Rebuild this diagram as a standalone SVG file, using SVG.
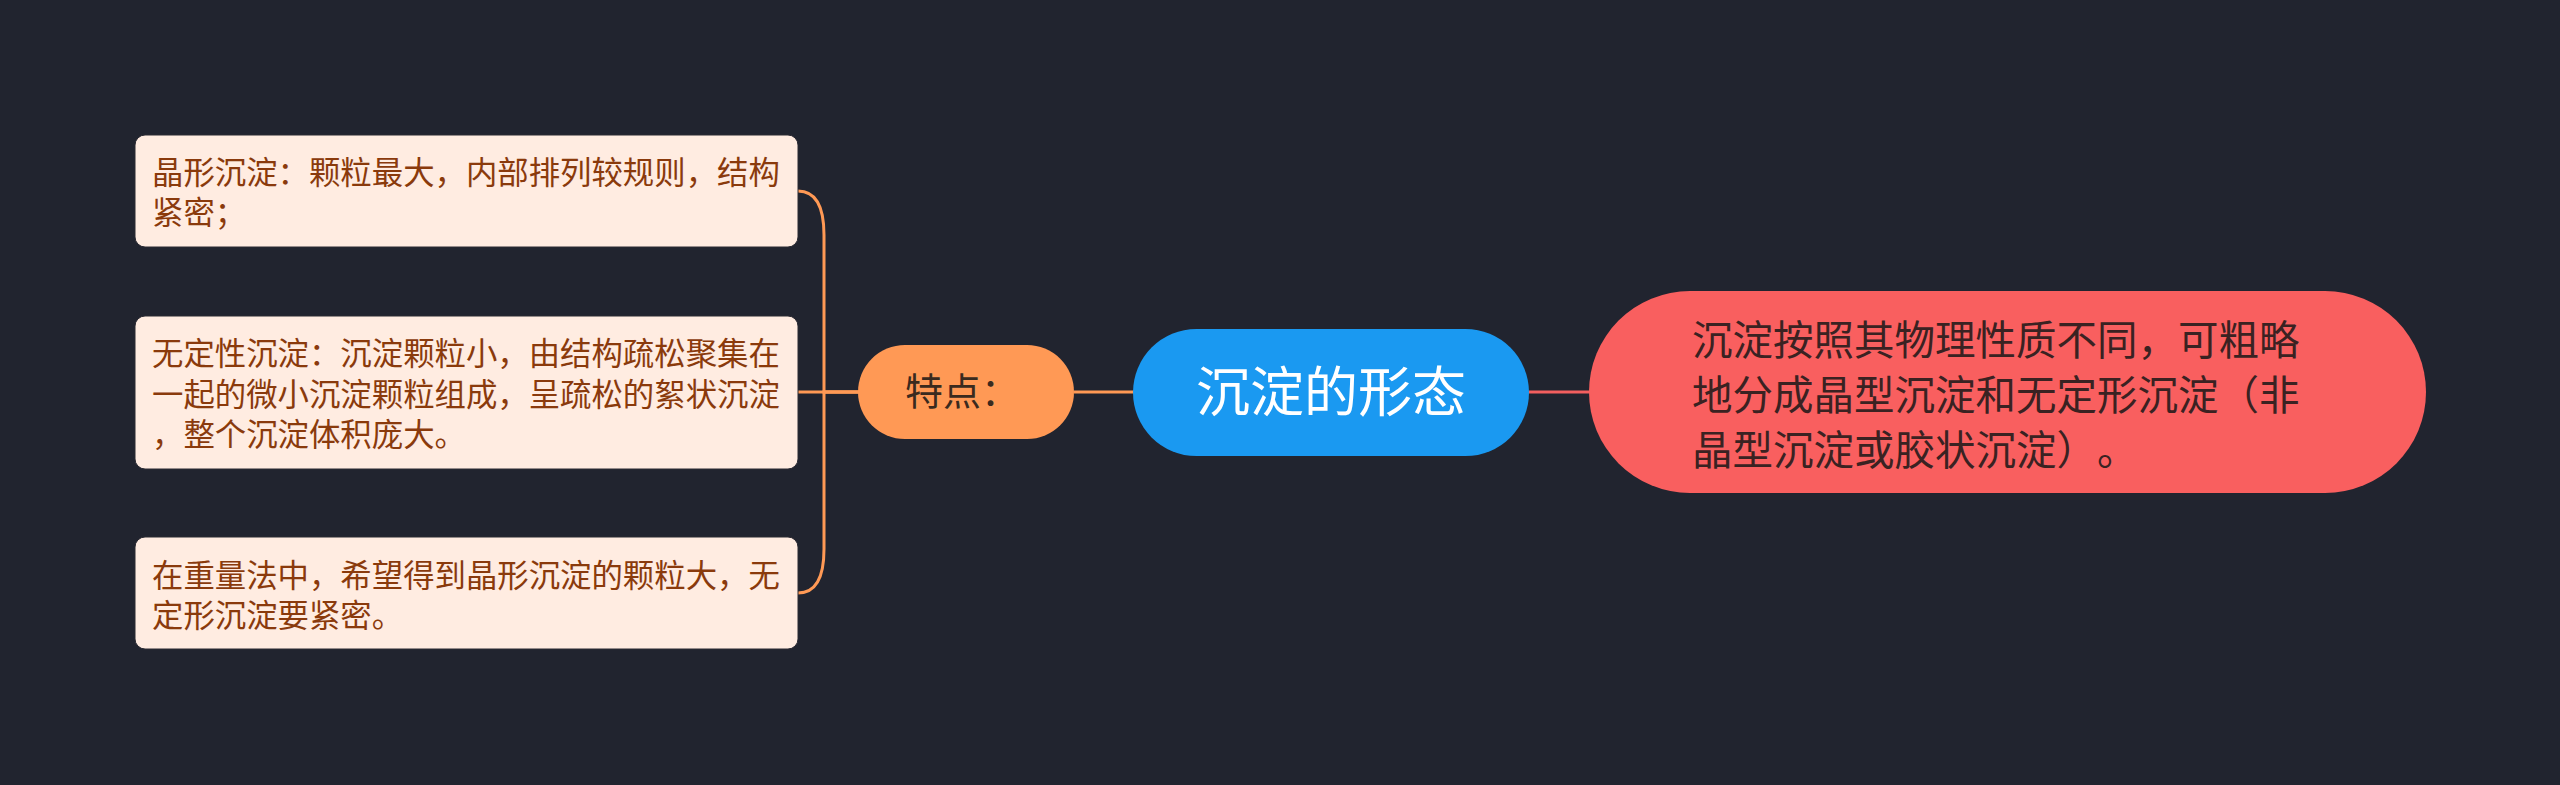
<svg xmlns="http://www.w3.org/2000/svg" width="2560" height="785" viewBox="0 0 2560 785">
<style>
text{text-spacing-trim:space-all}
.bg{fill:#21242F}
.leaf rect{fill:#FFECE1;stroke:#2a2a33;stroke-width:1}
.leaf text{font-family:"Noto Sans CJK SC","Noto Sans",sans-serif;font-size:31.4px;fill:#8A3A0C}
.conn{fill:none;stroke-width:3}
.orange{stroke:#FF9955}
.red{stroke:#F35F5F}
</style>
<rect class="bg" x="0" y="0" width="2560" height="785"/>
<g id="connectors">
<path class="conn orange" d="M859 392 H824 V235 C824 205 815 191 798 191"/>
<path class="conn orange" d="M859 392 H798"/>
<path class="conn orange" d="M859 392 H824 V549 C824 579 815 593 798 593"/>
<path class="conn orange" d="M1074 392 H1134"/>
<path class="conn red" d="M1529 392 H1590"/>
</g>
<g id="leaf1" class="leaf">
<rect x="135" y="135" width="663" height="112" rx="10"/>
<text x="152" y="184">晶形沉淀：颗粒最大，内部排列较规则，结构</text>
<text x="152" y="224">紧密；</text>
</g>
<g id="leaf2" class="leaf">
<rect x="135" y="316" width="663" height="153" rx="10"/>
<text x="152" y="365">无定性沉淀：沉淀颗粒小，由结构疏松聚集在</text>
<text x="152" y="405.5">一起的微小沉淀颗粒组成，呈疏松的絮状沉淀</text>
<text x="152" y="446">，整个沉淀体积庞大。</text>
</g>
<g id="leaf3" class="leaf">
<rect x="135" y="537" width="663" height="112" rx="10"/>
<text x="152" y="587">在重量法中，希望得到晶形沉淀的颗粒大，无</text>
<text x="152" y="627">定形沉淀要紧密。</text>
</g>
<g id="tedian">
<rect x="858" y="345" width="216" height="94" rx="47" fill="#FF9955"/>
<text x="905" y="405" font-family="Noto Sans CJK SC,sans-serif" font-size="38" fill="#3A2A1E">特点：</text>
</g>
<g id="root">
<rect x="1133" y="329" width="396" height="127" rx="63.5" fill="#1A99F1"/>
<text x="1331" y="412" text-anchor="middle" font-family="Noto Sans CJK SC,sans-serif" font-size="54" fill="#FFFFFF">沉淀的形态</text>
</g>
<g id="desc">
<rect x="1589" y="291" width="837" height="202" rx="101" fill="#F95F5F"/>
<g font-family="Noto Sans CJK SC,sans-serif" font-size="40.5" fill="#3A2222">
<text x="1692" y="355">沉淀按照其物理性质不同，可粗略</text>
<text x="1692" y="410">地分成晶型沉淀和无定形沉淀（非</text>
<text x="1692" y="465">晶型沉淀或胶状沉淀）。</text>
</g>
</g>
</svg>
